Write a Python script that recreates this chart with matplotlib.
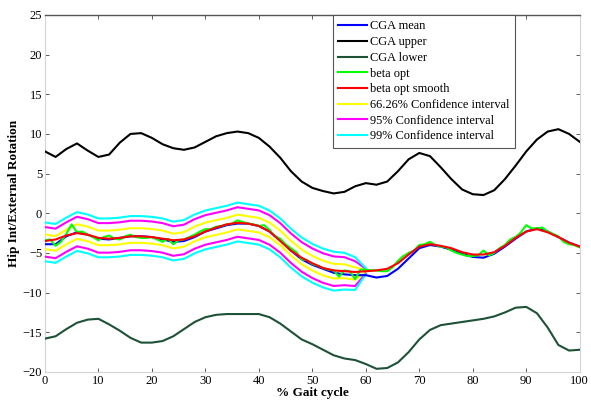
import numpy as np
import matplotlib
matplotlib.use("Agg")
import matplotlib.pyplot as plt

# gait cycle grids
x_cga = np.arange(0, 101, 2)
x_beta = np.arange(0, 101, 1)
x_ci = np.arange(0, 61, 2)

cga_mean = [-3.9, -3.9, -2.9, -2.4, -2.7, -3.2, -3.3, -3.1, -2.9, -2.9,
            -3.0, -3.3, -3.6, -3.5, -3.0, -2.3, -1.9, -1.5, -1.3, -1.3,
            -1.6, -2.3, -3.4, -4.7, -5.8, -6.5, -7.0, -7.5, -7.7, -7.8,
            -7.8, -8.1, -7.9, -7.0, -5.7, -4.4, -4.0, -4.2, -4.6, -5.1,
            -5.5, -5.6, -5.1, -4.2, -3.2, -2.3, -1.9, -2.3, -3.0, -3.7, -4.2]

cga_upper = [7.8, 7.1, 8.1, 8.8, 7.9, 7.1, 7.4, 8.9, 10.0, 10.1,
             9.5, 8.7, 8.2, 8.0, 8.3, 9.0, 9.7, 10.1, 10.3, 10.1,
             9.5, 8.4, 7.0, 5.3, 4.0, 3.2, 2.8, 2.5, 2.7, 3.4,
             3.8, 3.6, 4.0, 5.3, 6.8, 7.6, 7.2, 5.8, 4.3, 3.0,
             2.4, 2.3, 2.9, 4.3, 6.0, 7.8, 9.3, 10.3, 10.6, 10.0, 9.0]

cga_lower = [-15.8, -15.5, -14.6, -13.8, -13.4, -13.3, -14.0, -14.8, -15.7, -16.3,
             -16.3, -16.1, -15.5, -14.6, -13.7, -13.1, -12.8, -12.7, -12.7, -12.7,
             -12.7, -13.1, -13.9, -14.9, -15.9, -16.5, -17.2, -17.9, -18.3, -18.5,
             -19.0, -19.6, -19.5, -18.8, -17.5, -15.9, -14.7, -14.1, -13.9, -13.7,
             -13.5, -13.3, -13.0, -12.5, -11.9, -11.8, -12.6, -14.4, -16.6, -17.3, -17.2]

beta_opt = [-3.4, -3.3, -4.1, -3.6, -2.6, -1.4, -2.4, -2.3, -2.7, -3.0,
            -3.4, -3.0, -2.8, -3.2, -3.3, -2.9, -2.7, -3.0, -3.1, -3.1,
            -3.0, -3.3, -3.6, -3.2, -3.9, -3.4, -3.3, -3.0, -2.7, -2.3,
            -2.0, -2.0, -1.7, -1.6, -1.4, -1.3, -0.9, -1.1, -1.3, -1.4,
            -1.6, -1.5, -2.1, -2.9, -3.2, -3.9, -4.4, -4.9, -5.8, -5.9,
            -6.4, -6.6, -6.9, -7.1, -7.2, -8.0, -7.2, -7.3, -8.3, -7.1,
            -7.1, -7.2, -7.2, -7.3, -7.3, -6.8, -6.0, -5.4, -5.0, -4.7,
            -4.0, -3.9, -3.6, -4.0, -4.2, -4.3, -4.7, -5.0, -5.2, -5.4,
            -5.4, -5.3, -4.7, -5.3, -5.0, -4.4, -4.0, -3.3, -3.0, -2.4,
            -1.5, -1.9, -1.9, -1.8, -2.3, -2.6, -2.9, -3.6, -3.9, -4.0, -4.3]

beta_smooth = [-3.5, -3.3, -2.8, -2.5, -2.7, -3.1, -3.2, -3.1, -2.9, -2.9,
               -3.0, -3.2, -3.4, -3.3, -2.9, -2.3, -1.8, -1.4, -1.2, -1.3,
               -1.6, -2.3, -3.5, -4.7, -5.6, -6.3, -6.9, -7.2, -7.3, -7.4,
               -7.3, -7.2, -7.0, -6.3, -5.2, -4.2, -3.9, -4.1, -4.4, -4.9,
               -5.2, -5.2, -4.9, -4.1, -3.1, -2.3, -2.0, -2.4, -3.0, -3.7, -4.2]

# confidence interval centre and spread (stance phase only)
ci_center = [-3.6, -3.8, -3.0, -2.3, -2.6, -3.1, -3.1, -3.0, -2.8, -2.8,
             -2.9, -3.1, -3.5, -3.3, -2.6, -2.1, -1.8, -1.5, -1.1, -1.3,
             -1.5, -2.1, -3.1, -4.4, -5.5, -6.3, -6.9, -7.3, -7.3, -7.6, -7.3]
ci_sd = [0.95] * 28 + [0.9, 0.8, 0.15]
ci_levels = ["66.26% Confidence interval", "95% Confidence interval",
             "99% Confidence interval"]
ci_z = [0.97, 1.96, 2.576]
ci_colors = ["#ffff00", "#ff00ff", "#00ffff"]

plt.rcParams["font.family"] = ["Liberation Serif", "DejaVu Serif"]

fig = plt.figure(figsize=(5.91, 4.03), dpi=100)
ax = fig.add_axes([0.076, 0.077, 0.905, 0.886])

lw = 1.5
h_mean, = ax.plot(x_cga, cga_mean, color="#0000ff", lw=lw, zorder=4, label="CGA mean")
h_up, = ax.plot(x_cga, cga_upper, color="black", lw=lw, zorder=4, label="CGA upper")
h_low, = ax.plot(x_cga, cga_lower, color="#1d5237", lw=lw, zorder=4, label="CGA lower")
h_beta, = ax.plot(x_beta, beta_opt, color="#00ff00", lw=lw, zorder=5, label="beta opt")
h_sm, = ax.plot(x_cga, beta_smooth, color="#ff0000", lw=lw, zorder=6, label="beta opt smooth")

center = np.array(ci_center)
sd = np.array(ci_sd)
ci_handles = []
for name, z, col in zip(ci_levels, ci_z, ci_colors):
    h, = ax.plot(x_ci, center + z * sd, color=col, lw=lw, zorder=3, label=name)
    ax.plot(x_ci, center - z * sd, color=col, lw=lw, zorder=3)
    ci_handles.append(h)

ax.set_xlim(0, 100)
ax.set_ylim(-20, 25)
ax.set_xticks(range(0, 101, 10))
ax.set_yticks(range(-20, 26, 5))
ax.tick_params(direction="in", length=3, width=0.6, color="#444444",
               labelsize=9, top=True, right=True, pad=2)

for side in ["left", "right", "bottom"]:
    ax.spines[side].set_color("#d4d4d4")
    ax.spines[side].set_linewidth(0.8)
ax.spines["top"].set_color("#555555")
ax.spines["top"].set_linewidth(1.0)

ax.set_xlabel("% Gait cycle", fontsize=9.5, fontweight="bold", labelpad=0)
ax.set_ylabel("Hip Int/External Rotation", fontsize=9.5, fontweight="bold", labelpad=2)

handles = [h_mean, h_up, h_low, h_beta, h_sm] + ci_handles
leg = ax.legend(handles=handles, loc="upper left", bbox_to_anchor=(0.538, 1.0),
                borderaxespad=0, fontsize=8.9, handlelength=2.3, handletextpad=0.3,
                labelspacing=0.3, borderpad=0.45, fancybox=False, framealpha=1)
leg.get_frame().set_edgecolor("#555555")
leg.get_frame().set_linewidth(0.8)
leg.set_zorder(10)

fig.savefig("out.png", dpi=100)
